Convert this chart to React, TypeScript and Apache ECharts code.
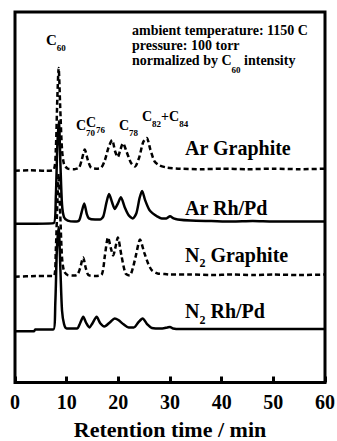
import React, { useEffect, useRef } from "react";
import * as echarts from "echarts";

const FONT = "Liberation Serif";

// retention time (min) vs normalized intensity (C60 peak ~ 97), each trace stacked by an offset
const seriesNames = ["Ar Graphite", "Ar Rh/Pd", "N2 Graphite", "N2 Rh/Pd"];
const seriesOffsets = [200, 150, 100, 50];
const seriesDashed = [true, false, true, false];

const arGraphite: [number, number][] = [
  [0, 0], [3, 0.5], [6, 0], [7.5, 1], [7.9, 20], [8.2, 70], [8.45, 97], [8.75, 60], [9.1, 20],
  [9.5, 6], [10.2, 2], [11.5, 1.5], [12.4, 3], [12.9, 10], [13.5, 20], [14.1, 10], [14.7, 3],
  [15.7, 2], [16.7, 3], [17.4, 10], [18.1, 22], [18.8, 29], [19.4, 18], [19.9, 13], [20.4, 20],
  [20.9, 26], [21.6, 18], [22.4, 8], [23.2, 4], [24.0, 12], [24.8, 27], [25.5, 31], [26.2, 20],
  [27.0, 9], [28.0, 5], [29.5, 3], [32, 2], [36, 1.5], [40, 2], [45, 1.5], [50, 2], [55, 1.5], [60, 2],
];

const arRhPd: [number, number][] = [
  [0, 0], [4, 0], [7.5, 0.5], [7.9, 25], [8.2, 75], [8.5, 97], [8.8, 55], [9.1, 18], [9.5, 6],
  [10.2, 3], [11.5, 2], [12.4, 3], [12.9, 11], [13.4, 19], [13.9, 9], [14.3, 5], [15.5, 4],
  [16.5, 4], [17.1, 7], [17.7, 20], [18.2, 28], [18.8, 20], [19.3, 14], [19.9, 19], [20.5, 25],
  [21.2, 16], [22.0, 8], [22.8, 5], [23.5, 10], [24.1, 24], [24.6, 31], [25.2, 22], [26.0, 13],
  [26.6, 10], [27.5, 7], [28.4, 5], [29.3, 5], [30.0, 7], [30.7, 5], [31.5, 4], [34, 3],
  [38, 2.5], [42, 2], [46, 2.5], [50, 2], [55, 2], [60, 2],
];

const n2Graphite: [number, number][] = [
  [0, 0], [4, 0.5], [7.5, 0.5], [7.9, 25], [8.2, 70], [8.45, 97], [8.75, 60], [9.1, 18],
  [9.5, 5], [10.2, 1.5], [11.5, 1], [12.1, 2], [12.6, 8], [13.2, 18], [13.7, 8], [14.2, 1.5],
  [15.5, 0.5], [16.8, 2], [17.4, 20], [18.0, 37], [18.6, 26], [19.0, 20], [19.5, 29], [19.9, 37],
  [20.6, 20], [21.4, 3], [22.2, 1], [22.8, 8], [23.4, 20], [24.2, 35], [25.0, 23], [25.8, 12],
  [26.5, 6], [27.6, 3], [29, 2.5], [30, 2], [34, 2], [38, 1.5], [42, 2], [46, 1.5], [50, 2],
  [55, 1.5], [60, 2],
];

const n2RhPd: [number, number][] = [
  [0, -1.5], [3.7, -1.5], [3.9, 0], [7.4, 0], [7.8, 25], [8.1, 75], [8.45, 97], [8.8, 55],
  [9.1, 18], [9.5, 5], [10.0, 1], [12.0, 1], [12.6, 6], [13.2, 12], [13.8, 6], [14.4, 2],
  [15.0, 6], [15.8, 12], [16.5, 6], [17.3, 3], [18.4, 7], [19.3, 10.5], [20.0, 9], [21.0, 5],
  [22.0, 2], [23.0, 2], [23.9, 7], [24.7, 10.5], [25.6, 5], [26.5, 1.5], [28.5, 1], [29.5, 2],
  [30.0, 2.5], [30.6, 1], [32, 0.5], [40, 0.5], [50, 0.5], [60, 0.5],
];

const seriesData = [arGraphite, arRhPd, n2Graphite, n2RhPd];

const xMin = 0;
const xMax = 60;
const xInterval = 10;
const xTitle = "Retention time / min";

const conditionLines = [
  "{m|ambient temperature: 1150 C}",
  "{m|pressure: 100 torr}",
  "{m|normalized by C}{s|60}{m| intensity}",
];
const peakLabels = [
  "{m|C}{s|60}",
  "{m|C}{s|70}",
  "{m|C}{s|76}",
  "{m|C}{s|78}",
  "{m|C}{s|82}{m|+C}{s|84}",
];
const traceLabels = [
  "{m|Ar Graphite}",
  "{m|Ar Rh/Pd}",
  "{m|N}{s|2}{m| Graphite}",
  "{m|N}{s|2}{m| Rh/Pd}",
];

function richText(
  text: string,
  x: number,
  y: number,
  main: number,
  sub: number,
  pad: number
) {
  return {
    type: "text",
    x,
    y,
    silent: true,
    style: {
      text,
      align: "left",
      verticalAlign: "middle",
      fill: "#000",
      rich: {
        m: {
          fontSize: main,
          fontWeight: "bold",
          fontFamily: FONT,
          fill: "#000",
          verticalAlign: "middle",
        },
        s: {
          fontSize: sub,
          fontWeight: "bold",
          fontFamily: FONT,
          fill: "#000",
          verticalAlign: "middle",
          padding: [pad, 0, 0, 0],
        },
      },
    },
  };
}

export default function App() {
  const ref = useRef<HTMLDivElement>(null);
  useEffect(() => {
    const chart = echarts.init(ref.current!, null, { renderer: "svg" });
    const conditionPos = [
      [132, 30],
      [132, 45],
      [132, 60],
    ];
    const peakPos = [
      [46, 40],
      [76, 125],
      [86, 122],
      [119, 125],
      [142, 116],
    ];
    const tracePos = [
      [185, 148],
      [185, 207.5],
      [185, 254.5],
      [185, 311],
    ];
    const graphic: any[] = [];
    conditionLines.forEach((t, i) =>
      graphic.push(richText(t, conditionPos[i][0], conditionPos[i][1], 14, 9, 20))
    );
    peakLabels.forEach((t, i) =>
      graphic.push(richText(t, peakPos[i][0], peakPos[i][1], i === 0 ? 15 : 14, 9, 16))
    );
    traceLabels.forEach((t, i) =>
      graphic.push(richText(t, tracePos[i][0], tracePos[i][1], 20, 12, 17))
    );

    chart.setOption({
      animation: false,
      backgroundColor: "#fff",
      grid: {
        left: 15,
        right: 12,
        top: 12,
        bottom: 58.5,
        containLabel: false,
        outerBoundsMode: "none",
        show: true,
        borderColor: "#000",
        borderWidth: 3,
        backgroundColor: "transparent",
      },
      xAxis: {
        type: "value",
        min: xMin,
        max: xMax,
        interval: xInterval,
        name: xTitle,
        nameLocation: "middle",
        nameGap: 35.5,
        nameTextStyle: {
          fontSize: 22,
          fontWeight: "bold",
          fontFamily: FONT,
          color: "#000",
        },
        axisLine: { show: false },
        axisTick: {
          show: true,
          inside: true,
          length: 6,
          lineStyle: { color: "#000", width: 3 },
        },
        axisLabel: {
          fontSize: 20,
          fontWeight: "bold",
          fontFamily: FONT,
          color: "#000",
          margin: 9,
          showMinLabel: true,
          showMaxLabel: true,
        },
        splitLine: { show: false },
      },
      yAxis: {
        type: "value",
        min: 0,
        max: 350,
        show: false,
      },
      series: seriesData.map((d, i) => ({
        name: seriesNames[i],
        type: "line",
        data: d.map(([x, y]) => [x, y + seriesOffsets[i]]),
        showSymbol: false,
        symbol: "none",
        smooth: 0.25,
        lineStyle: {
          color: "#000",
          width: 2.5,
          type: seriesDashed[i] ? [5, 3] : "solid",
        },
        z: seriesDashed[i] ? 3 : 2,
      })),
      graphic,
    });
    return () => chart.dispose();
  }, []);
  return (
    <div
      ref={ref}
      style={{ position: "fixed", left: 0, top: 0, width: 337, height: 441 }}
    />
  );
}
